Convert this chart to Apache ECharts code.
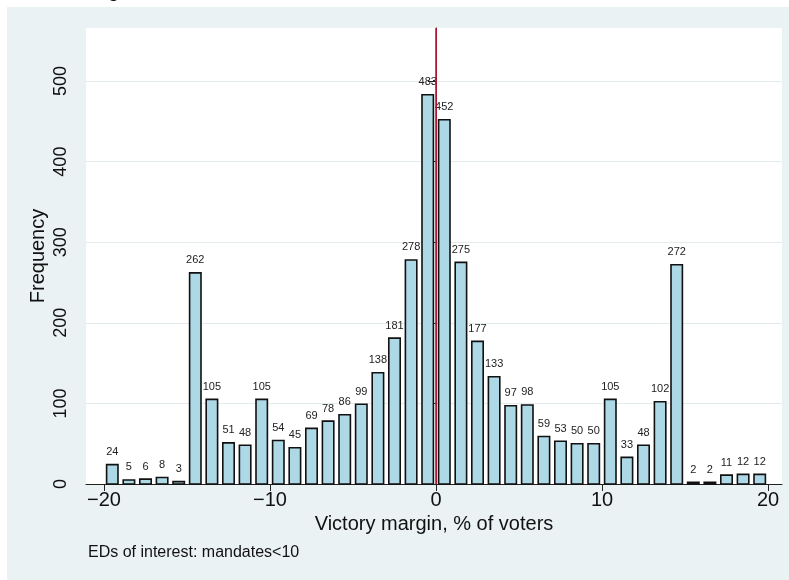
<!DOCTYPE html>
<html>
<head>
<meta charset="utf-8">
<script src="https://cdn.jsdelivr.net/npm/echarts@6/dist/echarts.min.js"></script>
<style>
html,body{margin:0;padding:0;background:#fff;}
#chart{width:789px;height:580px;}
</style>
</head>
<body>
<div id="chart"></div>
<script>
// Data
const binStart = [-20,-19,-18,-17,-16,-15,-14,-13,-12,-11,-10,-9,-8,-7,-6,-5,-4,-3,-2,-1,
                  0,1,2,3,4,5,6,7,8,9,10,11,12,13,14,15,16,17,18,19];
const binWidth = 1;
const frequency = [24,5,6,8,3,262,105,51,48,105,54,45,69,78,86,99,138,181,278,483,
                   452,275,177,133,97,98,59,53,50,50,105,33,48,102,272,2,2,11,12,12];
const xTicks = [-20,-10,0,10,20];
const yTicks = [0,100,200,300,400,500];
const refLineX = 0;
const xTitle = 'Victory margin, % of voters';
const yTitle = 'Frequency';
const note = 'EDs of interest: mandates<10';

const xMin = -21.084, xMax = 20.843;
const yMin = 0, yMax = 565.8;

const FONT = '"Liberation Sans", Arial, sans-serif';
const chart = echarts.init(document.getElementById('chart'), null, {renderer: 'canvas'});

const barData = binStart.map((s, i) => [s, frequency[i]]);

const option = {
  backgroundColor: '#ffffff',
  animation: false,
  graphic: [
    {type: 'rect', z: -10, shape: {x: 7, y: 7, width: 782, height: 573}, style: {fill: '#eaf2f3'}},
    {type: 'text', left: 108, top: -19, style: {text: 'g', font: '20px ' + FONT, fill: '#000'}},
    {type: 'text', left: 88, top: 545, style: {text: note, font: '16px ' + FONT, fill: '#111'}},
    {type: 'text', x: 38, y: 256, rotation: Math.PI / 2,
     style: {text: yTitle, font: '20px ' + FONT, fill: '#111', align: 'center', verticalAlign: 'middle'}}
  ],
  grid: {
    left: 86, right: 7, top: 28, bottom: 96,
    show: true, backgroundColor: '#ffffff', borderWidth: 0
  },
  xAxis: {
    type: 'value', min: xMin, max: xMax,
    name: xTitle, nameLocation: 'middle', nameGap: 30,
    nameTextStyle: {fontFamily: FONT, fontSize: 20, color: '#111'},
    axisLine: {show: true, onZero: false, lineStyle: {color: '#222', width: 1}},
    axisTick: {show: true, length: 7, lineStyle: {color: '#222'}, customValues: xTicks},
    axisLabel: {
      fontFamily: FONT, fontSize: 20, color: '#111', margin: 6,
      customValues: xTicks,
      formatter: v => (v < 0 ? '\u2212' + Math.abs(v) : String(v))
    },
    splitLine: {show: false}
  },
  yAxis: {
    type: 'value', min: yMin, max: yMax,
    axisLine: {show: true, lineStyle: {color: '#222', width: 1}},
    axisTick: {show: true, length: 8, lineStyle: {color: '#222'}, customValues: yTicks},
    axisLabel: {
      fontFamily: FONT, fontSize: 18, color: '#111', margin: 16, rotate: 90,
      customValues: yTicks
    },
    splitLine: {show: true, lineStyle: {color: '#e3ebed', width: 1.2}}
  },
  series: [
    {
      type: 'custom',
      data: barData,
      encode: {x: 0, y: 1},
      renderItem: function (params, api) {
        const s = api.value(0), v = api.value(1);
        const p0 = api.coord([s, 0]);
        const p1 = api.coord([s + binWidth, v]);
        const inset = 2.6;
        const x = p0[0] + inset;
        const w = p1[0] - p0[0] - 2 * inset;
        const cx = (p0[0] + p1[0]) / 2;
        return {
          type: 'group',
          children: [
            {
              type: 'rect',
              shape: {x: x, y: p1[1], width: w, height: p0[1] - p1[1]},
              style: {fill: '#add8e6', stroke: '#111', lineWidth: 1.6}
            },
            {
              type: 'text',
              style: {
                text: String(v), x: cx, y: p1[1] - 12.6,
                align: 'center', verticalAlign: 'middle',
                font: '11px ' + FONT, fill: '#222'
              }
            }
          ]
        };
      },
      z: 2
    },
    {
      type: 'line',
      data: [[refLineX, yMin], [refLineX, yMax]],
      symbol: 'none',
      lineStyle: {color: '#cc1238', width: 1.6},
      z: 5,
      silent: true
    }
  ]
};
chart.setOption(option);
</script>
</body>
</html>
